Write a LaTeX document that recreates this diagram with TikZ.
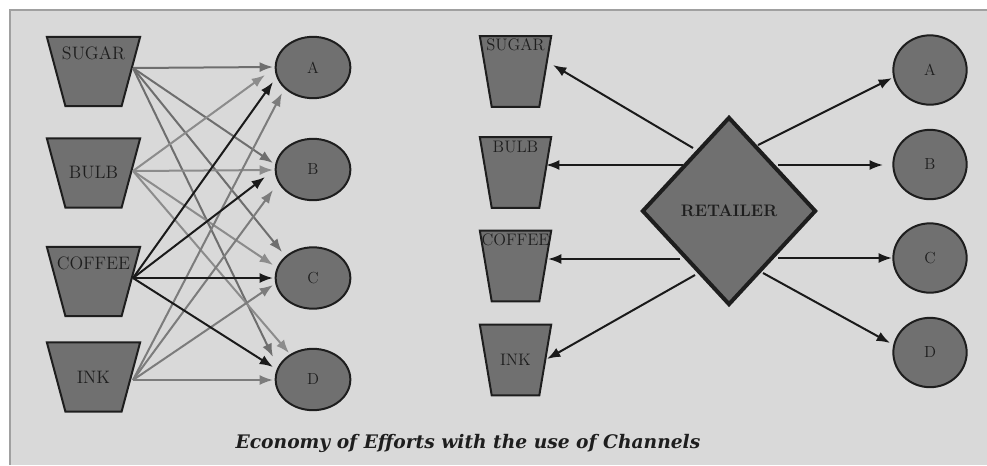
\documentclass[tikz,border=0pt]{standalone}
\usepackage{fontspec}
\newfontfamily\captionfont{DejaVu Serif}
\usepackage{xcolor}
\usetikzlibrary{shapes.geometric,arrows.meta,positioning,calc}

\definecolor{panel}{HTML}{D9D9D9}
\definecolor{framegray}{HTML}{A0A0A0}
\definecolor{shapegray}{HTML}{707070}
\definecolor{edgegray}{HTML}{1E1E1E}
\definecolor{sugarline}{HTML}{6E6E6E}
\definecolor{bulbline}{HTML}{8C8C8C}
\definecolor{inkline}{HTML}{7C7C7C}
\definecolor{coffeeline}{HTML}{1A1A1A}

\begin{document}
\begin{tikzpicture}[x=0.75pt, y=-0.75pt,
    cupL/.style={trapezium, draw=edgegray, fill=shapegray, line width=1.5pt, shape border rotate=180,
        trapezium stretches=true, trapezium angle=71.7, minimum width=70pt, minimum height=52pt, inner sep=2pt},
    cupR/.style={trapezium, draw=edgegray, fill=shapegray, line width=1.5pt, shape border rotate=180,
        trapezium stretches=true, trapezium angle=76, minimum width=53.5pt, minimum height=53pt, inner sep=2pt},
    shopL/.style={ellipse, draw=edgegray, fill=shapegray, line width=1.5pt, minimum width=56pt, minimum height=46pt, inner sep=0pt},
    shopR/.style={ellipse, draw=edgegray, fill=shapegray, line width=1.5pt, minimum width=55pt, minimum height=52pt, inner sep=0pt},
    retail/.style={diamond, draw=edgegray, fill=shapegray, line width=3pt, minimum width=130.5pt, minimum height=141pt, inner sep=0pt},
    flow/.style={line width=1.5pt, -{Latex[length=10pt,width=7.5pt]}}
]
    % Panel
    \useasboundingbox (0,0) rectangle (987,465);
    \fill[panel] (10,10) rectangle (987,465);
    \draw[framegray, line width=1.5pt] (987,10) -- (10,10) -- (10,465);

    % Left side: products
    \foreach \name/\y in {sugarL/71.5, bulbL/173, coffeeL/281.5, inkL/377} {
        \node [cupL] (\name) at (93.5,\y) {};
    }
    \node [font=\fontsize{13.5}{15}\selectfont, text=edgegray] at ([yshift=13.9pt]sugarL.center) {SUGAR};
    \node [font=\fontsize{13.5}{15}\selectfont, text=edgegray] at (bulbL.center) {BULB};
    \node [font=\fontsize{13.5}{15}\selectfont, text=edgegray] at ([yshift=13.9pt]coffeeL.center) {COFFEE};
    \node [font=\fontsize{13.5}{15}\selectfont, text=edgegray] at (inkL.center) {INK};

    % Left side: customers
    \foreach \name/\y/\label in {aL/67.5/A, bL/169.5/B, cL/278/C, dL/379.5/D} {
        \node [shopL, font=\fontsize{12}{14}\selectfont, text=edgegray] (\name) at (313,\y) {\label};
    }

    \coordinate (sugarL-out) at ([shift={(39.5,-3.5)}]sugarL.center);
    \coordinate (bulbL-out) at ([shift={(39.5,-2)}]bulbL.center);
    \coordinate (coffeeL-out) at ([shift={(39.5,-3.5)}]coffeeL.center);
    \coordinate (inkL-out) at ([shift={(39.5,3)}]inkL.center);

    % Direct links, every product to every customer
    \foreach \src/\tgt/\dx/\dy/\col in {
        sugarL/aL/-40/-0.5/sugarline, sugarL/bL/-40/-6.5/sugarline, sugarL/cL/-31/-26/sugarline, sugarL/dL/-40/-22.5/sugarline,
        bulbL/aL/-48/7.5/bulbline, bulbL/bL/-40/0.5/bulbline, bulbL/cL/-40/-13/bulbline, bulbL/dL/-24/-26.5/bulbline,
        inkL/aL/-31/25.5/inkline, inkL/bL/-40/20.5/inkline, inkL/cL/-40/7/inkline, inkL/dL/-40/0.5/inkline,
        coffeeL/aL/-40/14.5/coffeeline, coffeeL/bL/-48/7.5/coffeeline, coffeeL/cL/-40/0/coffeeline, coffeeL/dL/-40/-12.5/coffeeline} {
        \draw [flow, \col] (\src-out) -- ([shift={(\dx,\dy)}]\tgt.center);
    }

    % Right side: products
    \foreach \name/\y in {sugarR/71.5, bulbR/172.5, coffeeR/266, inkR/360} {
        \node [cupR] (\name) at (515.5,\y) {};
    }
    \node [font=\fontsize{12.5}{14}\selectfont, text=edgegray] at ([yshift=19.9pt]sugarR.center) {SUGAR};
    \node [font=\fontsize{12.5}{14}\selectfont, text=edgegray] at ([yshift=19.1pt]bulbR.center) {BULB};
    \node [font=\fontsize{12.5}{14}\selectfont, text=edgegray] at ([yshift=19.5pt]coffeeR.center) {COFFEE};
    \node [font=\fontsize{12.5}{14}\selectfont, text=edgegray] at (inkR.center) {INK};

    % Right side: customers
    \foreach \name/\y/\label in {aR/70/A, bR/164.5/B, cR/258/C, dR/352.5/D} {
        \node [shopR, font=\fontsize{12}{14}\selectfont, text=edgegray] (\name) at (930,\y) {\label};
    }

    % Retailer in between
    \node [retail, font=\fontsize{12.5}{14}\selectfont\bfseries, text=edgegray] (ret) at (729,211) {RETAILER};

    \foreach \tgt/\sx/\sy/\ex/\ey in {
        sugarR/-36/-63/37.5/-6.5, bulbR/-46/-46/30.5/-7.5, coffeeR/-49/48/32.5/-7, inkR/-34/64/31.5/-1,
        aR/29/-66/-38/8, bR/49/-46/-47/0.5, cR/49/47/-38/0, dR/34/62/-40/-9.5} {
        \draw [flow, coffeeline] ([shift={(\sx,\sy)}]ret.center) -- ([shift={(\ex,\ey)}]\tgt.center);
    }

    % Caption
    \node [font=\captionfont\bfseries\itshape\fontsize{14}{16}\selectfont, text=edgegray] (caption) at (468,443) {Economy of Efforts with the use of Channels};
\end{tikzpicture}
\end{document}
